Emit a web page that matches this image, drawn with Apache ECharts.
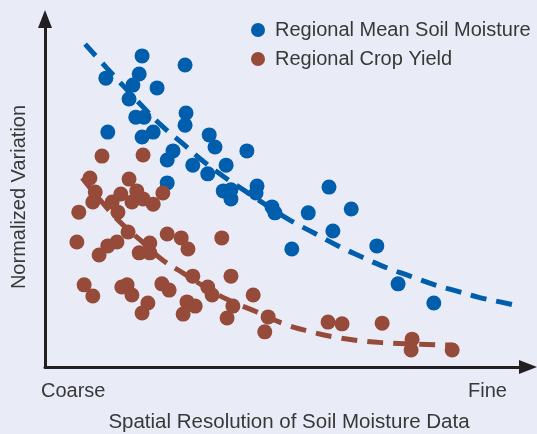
<!DOCTYPE html>
<html>
<head>
<meta charset="utf-8">
<script src="https://cdn.jsdelivr.net/npm/echarts@6/dist/echarts.min.js"></script>
<style>
html,body{margin:0;padding:0;background:#e9ecf7;}
#chart{width:537px;height:434px;}
</style>
</head>
<body>
<div id="chart"></div>
<script>
// Normalized axis units: x 0 (coarse) .. 100 (fine), y 0 .. 100
const soilMoistureX = [20.1,29.0,19.5,12.6,18.2,23.2,17.4,29.2,18.8,20.5,29.0,13.0,22.4,20.1,34.0,35.2,41.8,26.5,25.3,30.6,33.7,37.5,25.3,36.9,38.5,38.5,43.9,43.7,58.8,47.0,47.6,54.5,63.4,59.6,51.1,68.7,73.1,80.5];
const soilMoistureY = [89.4,86.8,84.2,83.0,81.0,80.2,77.0,73.0,71.8,71.8,69.5,67.5,67.5,66.1,66.7,63.2,62.1,62.1,59.5,58.0,55.5,58.0,52.9,50.6,48.3,50.9,52.0,50.0,51.7,46.0,44.3,44.3,45.4,39.1,33.9,34.8,23.9,18.4];
const cropYieldX = [11.8,20.3,9.3,17.4,10.4,15.7,19.0,9.9,13.9,18.0,20.3,22.4,24.4,7.0,15.1,17.2,25.3,28.2,29.6,6.6,13.0,14.9,21.7,11.2,19.5,21.7,36.6,30.6,38.5,8.1,9.9,15.9,17.0,18.0,24.2,25.7,21.3,20.1,29.4,31.1,28.6,33.7,34.6,38.9,37.7,43.1,46.2,45.5,58.6,61.5,69.8,76.0,75.8,84.3];
const cropYieldY = [60.6,60.9,54.3,54.0,50.3,49.7,50.6,47.4,47.4,47.4,48.3,46.8,50.0,44.5,44.5,38.8,38.2,37.1,33.9,35.9,34.8,35.9,35.6,32.2,32.8,32.8,37.1,26.1,26.1,23.6,20.4,23.0,23.6,20.7,23.9,22.1,18.4,15.5,18.7,17.5,15.2,23.0,20.7,17.5,14.1,20.7,14.4,10.1,12.9,12.4,12.6,8.0,4.9,4.9];
const soilTrendX = [8.3,12.8,16.6,20.3,24.2,28.6,32.7,37.1,41.4,45.5,50.7,55.7,60.7,65.6,70.4,75.6,80.7,85.3,89.6,94.2,98.3];
const soilTrendY = [92.8,85.9,80.2,74.7,69.3,64.1,59.2,54.6,50.6,46.8,42.2,38.5,34.8,31.6,28.7,26.1,23.6,21.8,20.1,18.7,17.5];
const cropTrendX = [7.7,11.4,15.5,19.7,24.4,28.6,33.1,37.9,43.9,49.1,54.5,60.0,65.6,71.0,76.2,84.3];
const cropTrendY = [54.3,48.0,41.7,36.5,30.7,27.0,23.0,19.3,15.8,12.6,10.3,8.6,7.5,6.9,6.6,6.3];
const seriesNames = ['Regional Mean Soil Moisture','Regional Crop Yield'];
const xEndLabels = ['Coarse','Fine'];
const xTitle = 'Spatial Resolution of Soil Moisture Data';
const yTitle = 'Normalized Variation';

const BLUE = '#005eac', BROWN = '#964b3a', AXIS = '#231f20', TEXT = '#383838';
const FONT = '"Liberation Sans", Arial, sans-serif';
const zip = (xs, ys) => xs.map((x, i) => [x, ys[i]]);

const chart = echarts.init(document.getElementById('chart'));
chart.setOption({
  backgroundColor: '#e9ecf7',
  animation: false,
  grid: {left: 45, right: 9, top: 19, bottom: 67},
  xAxis: {type: 'value', min: 0, max: 100,
    axisLine: {show: true, lineStyle: {color: AXIS, width: 3}, symbol: ['none', 'triangle'], symbolSize: [14, 18]},
    axisTick: {show: false}, axisLabel: {show: false}, splitLine: {show: false}},
  yAxis: {type: 'value', min: 0, max: 100,
    axisLine: {show: true, lineStyle: {color: AXIS, width: 3}, symbol: ['none', 'triangle'], symbolSize: [14, 18]},
    axisTick: {show: false}, axisLabel: {show: false}, splitLine: {show: false}},
  legend: {orient: 'vertical', left: 246, top: 15, itemWidth: 14, itemHeight: 14, itemGap: 9,
    icon: 'circle', data: seriesNames,
    textStyle: {fontSize: 20, color: TEXT, fontFamily: FONT, padding: [0, 0, 0, 5]}},
  series: [
    {type: 'line', name: 'soilTrend', data: zip(soilTrendX, soilTrendY), smooth: true, showSymbol: false, z: 1,
      lineStyle: {color: BLUE, width: 5, type: [16, 10], cap: 'butt'}},
    {type: 'line', name: 'cropTrend', data: zip(cropTrendX, cropTrendY), smooth: true, showSymbol: false, z: 1,
      lineStyle: {color: BROWN, width: 5, type: [16, 10], cap: 'butt'}},
    {type: 'scatter', name: seriesNames[0], data: zip(soilMoistureX, soilMoistureY), symbolSize: 15, z: 2,
      itemStyle: {color: BLUE, opacity: 1}},
    {type: 'scatter', name: seriesNames[1], data: zip(cropYieldX, cropYieldY), symbolSize: 15, z: 2,
      itemStyle: {color: BROWN, opacity: 1}}
  ],
  graphic: [
    {type: 'text', left: 41, top: 381, style: {text: xEndLabels[0], fontSize: 20, fill: TEXT, fontFamily: FONT}},
    {type: 'text', left: 468, top: 381, style: {text: xEndLabels[1], fontSize: 20, fill: TEXT, fontFamily: FONT}},
    {type: 'text', x: 289, y: 422, style: {text: xTitle, fontSize: 20.5, fill: TEXT, fontFamily: FONT, align: 'center', verticalAlign: 'middle'}},
    {type: 'text', x: 9, y: 197, rotation: Math.PI / 2,
      style: {text: yTitle, fontSize: 20, fill: TEXT, fontFamily: FONT, align: 'center', verticalAlign: 'top'}}
  ]
});
</script>
</body>
</html>
